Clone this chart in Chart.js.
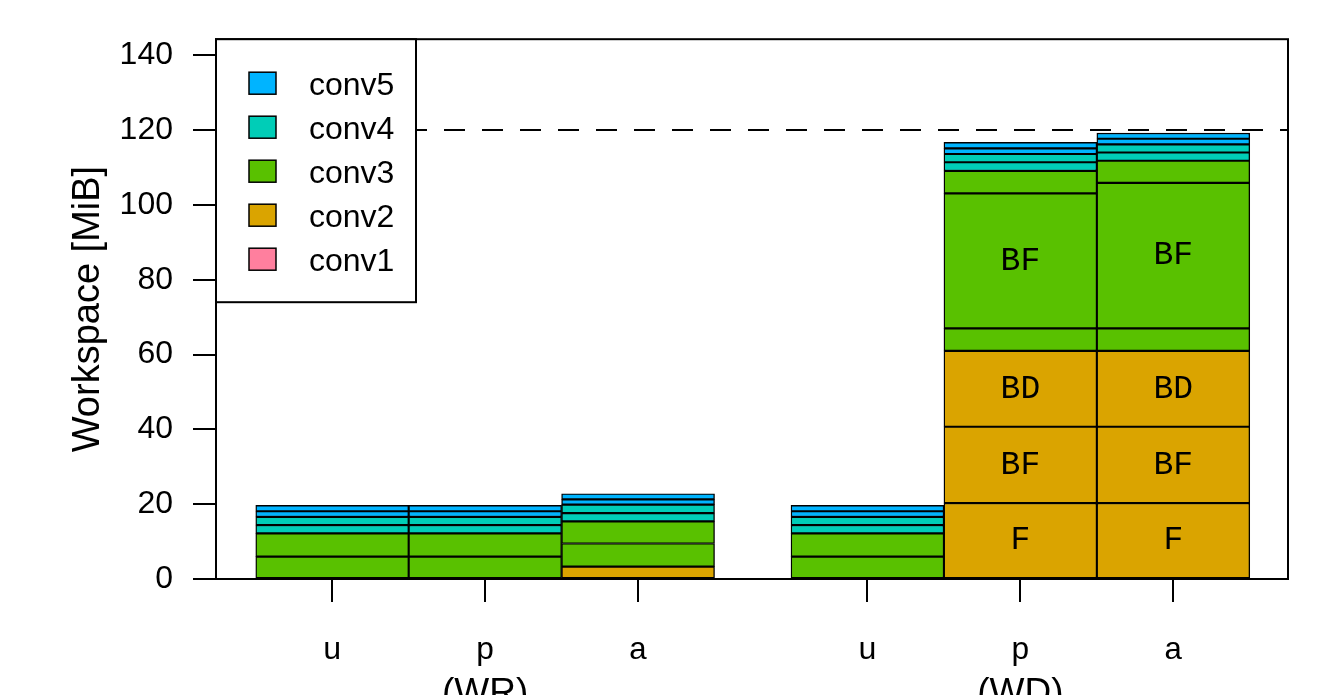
<!DOCTYPE html>
<html>
<head>
<meta charset="utf-8">
<script src="https://cdn.jsdelivr.net/npm/chart.js@4.4.0/dist/chart.umd.min.js"></script>
<style>
  body { margin: 0; background: #fff; }
  canvas { display: block; }
</style>
</head>
<body>
<canvas id="myChart" width="1330" height="695"></canvas>
<script>
// bar positions on the x axis (WR group, gap, WD group)
const barPos = [0, 1, 2, 3.5, 4.5, 5.5];
const barLabels = ["u", "p", "a", "u", "p", "a"];
const groupPos = [1, 4.5];
const groupLabels = ["(WR)", "(WD)"];
const yTicks = [0, 20, 40, 60, 80, 100, 120, 140];
const limitLine = 120;

const layerNames = ["conv1", "conv2", "conv3", "conv4", "conv5"];
const layerColors = ["#FF7F9E", "#DAA400", "#59C100", "#00CDB7", "#00B4FF"];

// workspace segments [MiB], bottom to top
const conv1 = [null, null, null, null, null, null];
const conv2F = [null, null, 3.3, null, 20.3, 20.3];
const conv2BF = [null, null, null, null, 20.4, 20.4];
const conv2BD = [null, null, null, null, 20.3, 20.3];
const conv3A = [6.0, 6.0, 6.2, 6.0, 6.0, 6.0];
const conv3B = [6.2, 6.2, 5.9, 6.2, 36.1, 38.9];
const conv3C = [null, null, null, null, 6.0, 5.9];
const conv4A = [2.2, 2.2, 2.2, 2.2, 2.3, 2.2];
const conv4B = [2.2, 2.2, 2.3, 2.2, 2.2, 2.2];
const conv5A = [1.5, 1.5, 1.4, 1.5, 1.5, 1.5];
const conv5B = [1.6, 1.6, 1.5, 1.6, 1.6, 1.5];

// text written inside some segments
const conv2FText = [null, null, null, null, "F", "F"];
const conv2BFText = [null, null, null, null, "BF", "BF"];
const conv2BDText = [null, null, null, null, "BD", "BD"];
const conv3BText = [null, null, null, null, "BF", "BF"];

const segments = [
  { layer: 0, values: conv1 },
  { layer: 1, values: conv2F, text: conv2FText },
  { layer: 1, values: conv2BF, text: conv2BFText },
  { layer: 1, values: conv2BD, text: conv2BDText },
  { layer: 2, values: conv3A },
  { layer: 2, values: conv3B, text: conv3BText },
  { layer: 2, values: conv3C },
  { layer: 3, values: conv4A },
  { layer: 3, values: conv4B },
  { layer: 4, values: conv5A },
  { layer: 4, values: conv5B },
];

const datasets = segments.map(function (seg) {
  return {
    label: layerNames[seg.layer],
    data: seg.values.map(function (v, i) { return { x: barPos[i], y: v }; }),
    segText: seg.text,
    backgroundColor: layerColors[seg.layer],
    borderColor: "#000",
    borderWidth: 1.4,
    borderSkipped: false,
    barPercentage: 1,
    categoryPercentage: 1,
  };
});

Chart.defaults.font.family = "'Liberation Sans', Arial, sans-serif";
Chart.defaults.color = "#000";

const extras = {
  id: "extras",
  afterDatasetsDraw: function (chart) {
    const ctx = chart.ctx;
    const area = chart.chartArea;
    const y = chart.scales.y;

    // text inside segments
    ctx.save();
    ctx.fillStyle = "#000";
    ctx.font = "33px 'Liberation Mono', monospace";
    ctx.textAlign = "center";
    ctx.textBaseline = "middle";
    chart.data.datasets.forEach(function (ds, di) {
      if (!ds.segText) return;
      const meta = chart.getDatasetMeta(di);
      ds.segText.forEach(function (t, i) {
        if (!t) return;
        const el = meta.data[i];
        ctx.fillText(t, el.x, (el.y + el.base) / 2);
      });
    });
    ctx.restore();

    // dashed limit line
    const ly = Math.round(y.getPixelForValue(limitLine));
    ctx.save();
    ctx.strokeStyle = "#000";
    ctx.lineWidth = 2;
    ctx.setLineDash([21, 17]);
    ctx.beginPath();
    ctx.moveTo(area.left, ly);
    ctx.lineTo(area.right, ly);
    ctx.stroke();
    ctx.restore();
  },
  afterDraw: function (chart) {
    const ctx = chart.ctx;
    const area = chart.chartArea;
    const x = chart.scales.x;

    // frame
    ctx.save();
    ctx.strokeStyle = "#000";
    ctx.lineWidth = 2;
    ctx.strokeRect(area.left, area.top, area.right - area.left, area.bottom - area.top);

    // legend
    const lx = area.left, ly = area.top, lw = 200, lh = 263;
    ctx.fillStyle = "#fff";
    ctx.fillRect(lx, ly, lw, lh);
    ctx.strokeRect(lx, ly, lw, lh);
    ctx.font = "32px 'Liberation Sans', Arial, sans-serif";
    ctx.textAlign = "left";
    ctx.textBaseline = "alphabetic";
    for (let k = 0; k < layerNames.length; k++) {
      const idx = layerNames.length - 1 - k;
      const cy = ly + 44 + k * 44;
      ctx.fillStyle = layerColors[idx];
      ctx.fillRect(lx + 33, cy - 11, 27, 22);
      ctx.lineWidth = 1.5;
      ctx.strokeRect(lx + 33, cy - 11, 27, 22);
      ctx.fillStyle = "#000";
      ctx.fillText(layerNames[idx], lx + 93, cy + 12);
    }

    // group labels
    ctx.font = "37px 'Liberation Sans', Arial, sans-serif";
    ctx.textAlign = "center";
    groupLabels.forEach(function (g, i) {
      ctx.fillText(g, x.getPixelForValue(groupPos[i]), 704);
    });
    ctx.restore();
  },
};

const ctx = document.getElementById("myChart");
const myChart = new Chart(ctx, {
  type: "bar",
  data: { datasets: datasets },
  options: {
    responsive: false,
    animation: false,
    layout: { padding: { top: 37, right: 42, left: 0, bottom: 0 } },
    plugins: {
      legend: { display: false },
      tooltip: { enabled: false },
    },
    scales: {
      x: {
        type: "linear",
        min: -0.76,
        max: 6.25,
        offset: false,
        stacked: true,
        border: { display: false },
        grid: {
          offset: false,
          drawOnChartArea: false,
          drawTicks: true,
          tickLength: 23,
          color: "#000",
          lineWidth: 2,
        },
        ticks: {
          autoSkip: false,
          maxRotation: 0,
          padding: 29,
          color: "#000",
          font: { family: "'Liberation Mono', monospace", size: 32 },
          callback: function (value, index) {
            return barLabels[index];
          },
        },
        afterBuildTicks: function (scale) {
          scale.ticks = barPos.map(function (v) { return { value: v }; });
        },
        afterFit: function (scale) {
          scale.height = 116;
        },
      },
      y: {
        min: 0,
        max: 144.3,
        stacked: true,
        border: { display: false },
        grid: {
          drawOnChartArea: false,
          drawTicks: true,
          tickLength: 23,
          color: "#000",
          lineWidth: 2,
        },
        ticks: {
          padding: 20,
          color: "#000",
          font: { size: 32 },
        },
        afterBuildTicks: function (scale) {
          scale.ticks = yTicks.map(function (v) { return { value: v }; });
        },
        afterFit: function (scale) {
          scale.width = 216;
        },
        title: {
          display: true,
          text: "Workspace [MiB]",
          color: "#000",
          font: { size: 38 },
          padding: { top: 66, bottom: 0 },
        },
      },
    },
  },
  plugins: [extras],
});
</script>
</body>
</html>
